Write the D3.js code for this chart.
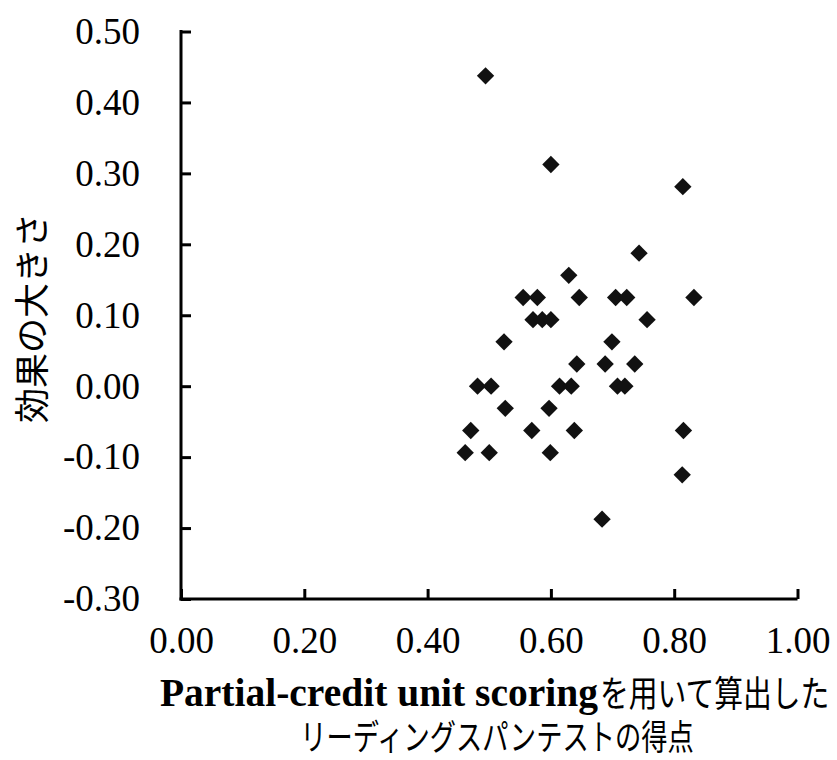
<!DOCTYPE html>
<html>
<head>
<meta charset="utf-8">
<script src="https://cdn.jsdelivr.net/npm/d3@7"></script>
<style>
  html, body { margin: 0; padding: 0; background: #fff; }
  svg { display: block; }
</style>
</head>
<body>
<svg id="chart" width="837" height="760"></svg>
<script>
// Reading span scores (partial-credit unit scoring) and effect sizes
const spanScores = [
  0.494, 0.600, 0.814, 0.743, 0.629,
  0.555, 0.578, 0.646, 0.705, 0.723, 0.832,
  0.571, 0.586, 0.600, 0.756,
  0.524, 0.699,
  0.642, 0.688, 0.736,
  0.481, 0.503, 0.614, 0.633, 0.708, 0.720,
  0.526, 0.597,
  0.470, 0.569, 0.638, 0.815,
  0.461, 0.500, 0.599,
  0.813,
  0.683
];
const effectSizes = [
  0.4375, 0.3125, 0.28125, 0.1875, 0.15625,
  0.125, 0.125, 0.125, 0.125, 0.125, 0.125,
  0.09375, 0.09375, 0.09375, 0.09375,
  0.0625, 0.0625,
  0.03125, 0.03125, 0.03125,
  0, 0, 0, 0, 0, 0,
  -0.03125, -0.03125,
  -0.0625, -0.0625, -0.0625, -0.0625,
  -0.09375, -0.09375, -0.09375,
  -0.125,
  -0.1875
];
const xTicks = [0, 0.2, 0.4, 0.6, 0.8, 1.0];
const yTicks = [-0.3, -0.2, -0.1, 0, 0.1, 0.2, 0.3, 0.4, 0.5];
const yTitle = "効果の大きさ";
const xTitleLatin = "Partial-credit unit scoring";
const xTitleJa = "を用いて算出した";
const xTitleLine2 = "リーディングスパンテストの得点";

const svg = d3.select("#chart");
const plotLeft = 181, plotRight = 797.5, plotTop = 31.5, plotBottom = 599;

const x = d3.scaleLinear().domain([0, 1]).range([plotLeft, plotRight]);
const y = d3.scaleLinear().domain([-0.3, 0.5]).range([plotBottom, plotTop]);

const serif = "'Liberation Serif', 'Times New Roman', serif";
const cjk = "'Noto Sans CJK JP', sans-serif";

// Two decimals, plain hyphen for negatives
const fmt = d => d3.format(".2f")(d).replace("\u2212", "-");

// Axes with inward ticks
const xAxis = d3.axisBottom(x).tickValues(xTicks).tickFormat(fmt)
  .tickSizeInner(-10).tickSizeOuter(0).tickPadding(28);
const yAxis = d3.axisLeft(y).tickValues(yTicks).tickFormat(fmt)
  .tickSizeInner(-10).tickSizeOuter(0).tickPadding(41);

const gx = svg.append("g").attr("transform", `translate(0,${plotBottom})`).call(xAxis);
const gy = svg.append("g").attr("transform", `translate(${plotLeft},0)`).call(yAxis);

[gx, gy].forEach(g => {
  g.select(".domain").attr("stroke", "#000").attr("stroke-width", 3);
  g.selectAll(".tick line").attr("stroke", "#000").attr("stroke-width", 3);
  g.selectAll(".tick text")
    .attr("fill", "#000")
    .style("font-family", serif)
    .style("font-size", "37px");
});
// Close the corner at the axis origin
gx.select(".domain").attr("d", `M${plotLeft - 1.5},0H${plotRight}`);
gy.select(".domain").attr("d", `M0,${plotTop - 1.5}V${plotBottom + 1.5}`);

// Points as diamonds
const diamond = d3.symbol().type(d3.symbolSquare).size(150);
svg.append("g")
  .selectAll("path")
  .data(d3.range(spanScores.length))
  .join("path")
  .attr("d", diamond)
  .attr("transform", i => `translate(${x(spanScores[i])},${y(effectSizes[i])}) rotate(45)`)
  .attr("fill", "#111");

// Y axis title
svg.append("text")
  .attr("transform", `translate(45,318) rotate(-90)`)
  .attr("text-anchor", "middle")
  .style("font-family", cjk)
  .style("font-size", "35px")
  .attr("fill", "#000")
  .text(yTitle);

// X axis title, first line: bold Latin part followed by a condensed Japanese part
svg.append("text")
  .attr("x", 598).attr("y", 706)
  .attr("text-anchor", "end")
  .style("font-family", serif).style("font-weight", "bold").style("font-size", "39.5px")
  .attr("fill", "#000")
  .text(xTitleLatin);
svg.append("text")
  .attr("transform", "translate(600,707) scale(0.8,1)")
  .style("font-family", cjk).style("font-size", "36px")
  .attr("fill", "#000")
  .text(xTitleJa);

// Second line, condensed
svg.append("text")
  .attr("transform", "translate(497,750) scale(0.74,1)")
  .attr("text-anchor", "middle")
  .style("font-family", cjk)
  .style("font-size", "35.5px")
  .attr("fill", "#000")
  .text(xTitleLine2);
</script>
</body>
</html>
